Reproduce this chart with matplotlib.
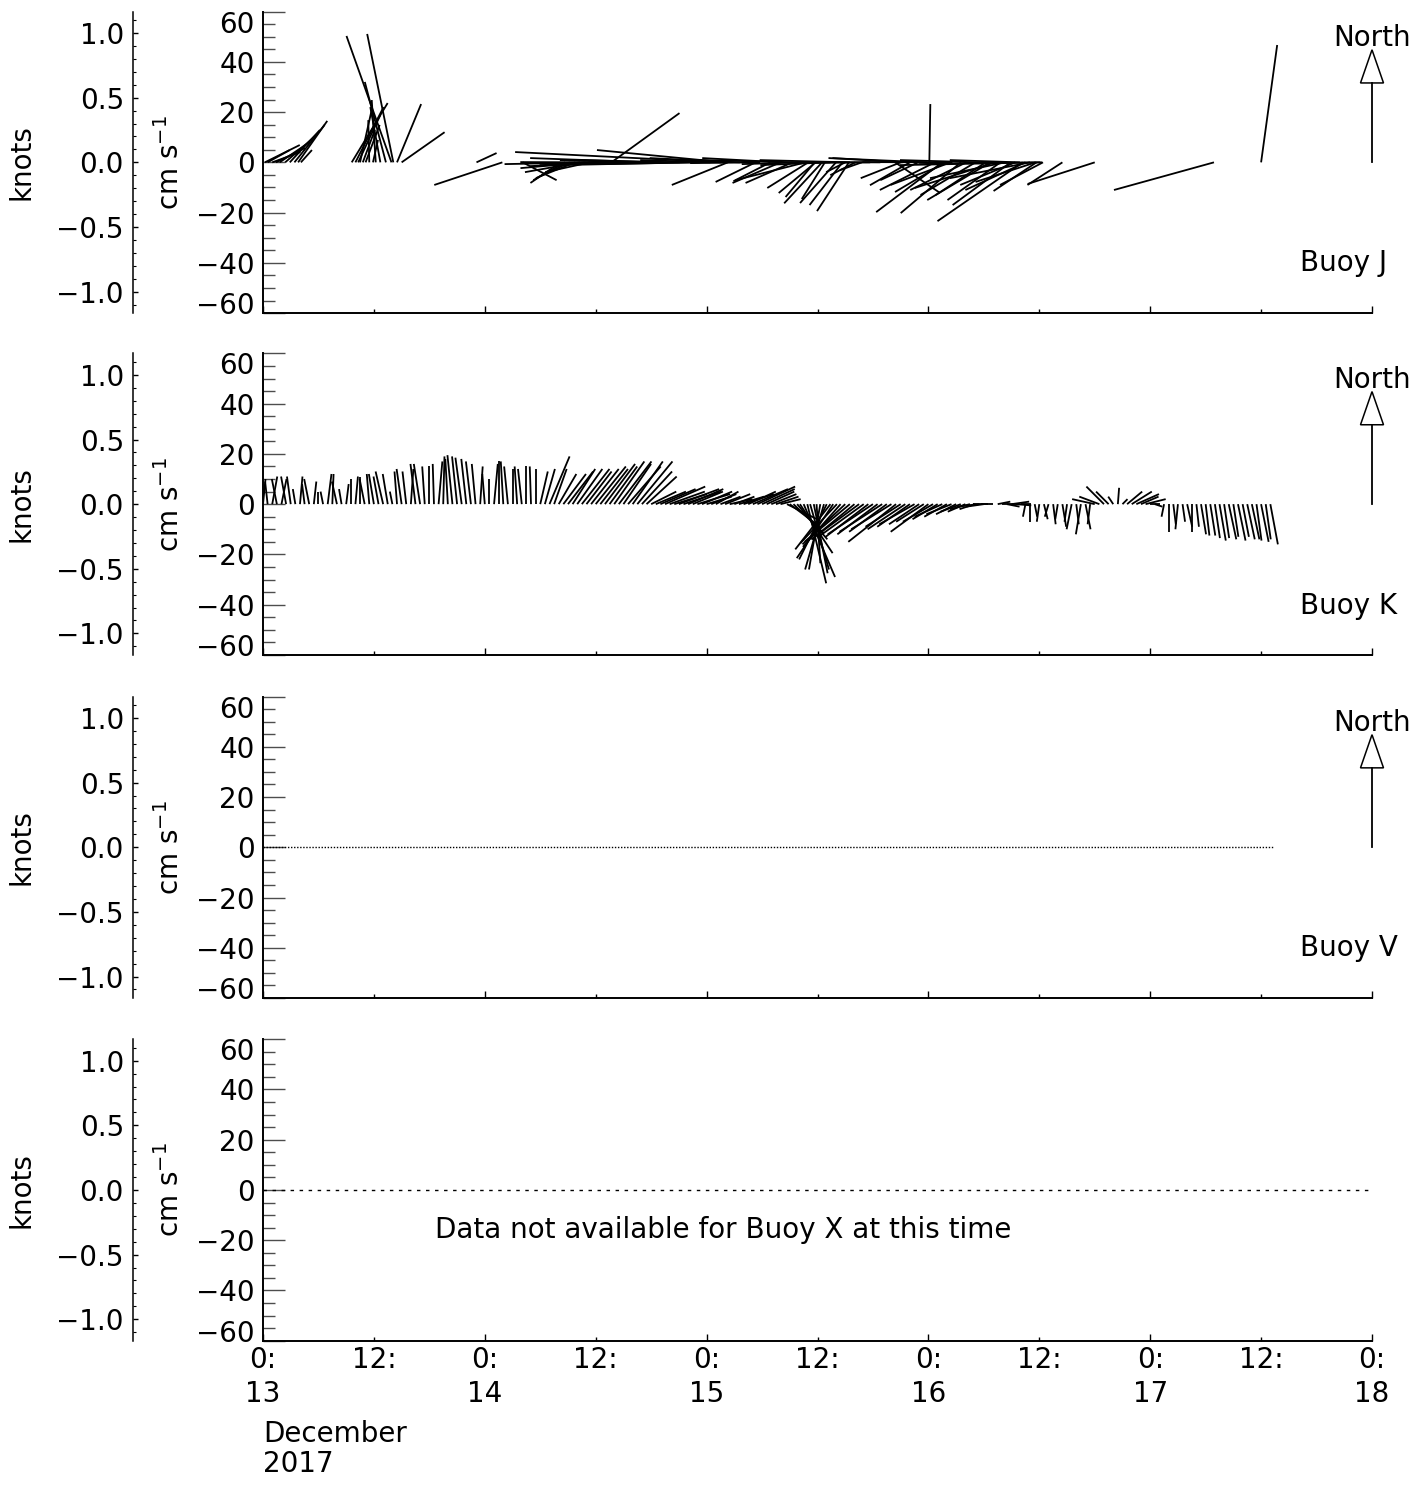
import numpy as np
import matplotlib
matplotlib.use('Agg')
import matplotlib.pyplot as plt
import matplotlib.transforms as mtransforms
from matplotlib.collections import LineCollection
from matplotlib.patches import Polygon
from matplotlib.ticker import FixedLocator, MultipleLocator, FuncFormatter

W, H = 1427, 1486
KNOT = 51.444          # cm/s in one knot
YMAX = 60              # cm/s
NORTH_LEN = 31.6       # cm/s, length of the reference arrow shaft
NORTH_HEAD = 13.2      # cm/s, arrow head height
START_DAY = 13         # December 2017

# ---- Buoy J: hours after 13 Dec 00:00, east (u) and north (v) speed in cm/s
J_HOURS = [0.0, 0.2, 0.5, 1.0, 1.4, 1.8, 2.4, 2.9, 3.4, 3.8, 4.1,
           9.6, 10.0, 10.3, 10.5, 10.8, 11.1, 11.5, 11.9, 12.2, 12.7, 13.3, 13.9, 14.1, 14.5, 15.0,
           23.1, 25.9, 28.1,
           32.2, 32.7, 33.2, 33.8, 34.3, 34.9, 35.4, 35.9, 36.5, 37.7,
           38.6, 40.8, 43.0, 45.1, 47.3, 49.6, 50.0, 50.3, 51.6, 53.3,
           56.0, 57.3, 58.1, 59.0, 59.8, 60.5, 61.4, 62.0, 62.7, 63.4,
           64.1, 64.8, 65.7, 68.4, 69.0, 70.0, 70.9, 71.9, 72.1, 72.7,
           73.5, 74.4, 75.5, 76.1, 77.1, 78.7, 79.8, 80.3, 80.9, 81.4,
           82.2, 83.0, 83.7, 84.1, 84.4, 86.5, 90.0, 102.9, 108.0,
           # dense stretch, 14-16 Dec
           54.9, 59.7, 60.8, 58.7, 63.0, 37.6, 41.9, 46.2, 48.4, 53.8,
           56.2, 58.3, 63.5, 66.8, 69.2, 74.6, 77.6, 79.6, 81.9, 84.3,
           73.8, 78.2, 79.2, 82.5, 83.6]
J_U = [-13.1, 13.9, 8.8, 11.2, 11.6, 12.0, 12.0, 12.0, 12.0, 11.6, 4.4,
       14.3, 11.2, 8.8, 4.8, 4.8, 5.6, -0.4, 2.0, -1.6, -4.0, -8.4, -17.9, -10.4, 9.6, 17.1,
       8.0, -27.1, 13.5,
       -12.0, -12.7, -13.5, -13.9, -21.9, -25.9, -17.9, -35.9, -27.9, 27.1,
       -31.9, -31.9, -35.9, -39.8, -39.8, -82.1, -51.0, -22.3, -35.9, -15.9,
       -19.1, -18.7, -39.8, -16.3, -14.7, -15.1, -27.9, -14.3, -13.1, -12.7,
       -10.0, -8.8, -31.9, 17.9, -15.9, -15.9, -15.1, -39.4, 0.4, -21.9,
       -26.3, -23.9, -23.9, -22.3, -21.9, -25.1, -21.1, -29.9, -23.1, -21.9,
       -33.9, -31.9, -17.1, -55.8, -17.1, -13.9, -26.7, -39.8, 6.4,
       -14.7, -11.6, -9.2, -27.9, -7.6, -35.9, -47.8, -51.8, -27.9, -27.9,
       -31.9, -23.9, -35.9, -31.9, -27.9, -35.9, -31.9, -31.9, -27.9, -27.9,
       -19.9, -19.9, -31.9, -23.9, -23.9]
J_V = [-9.8, 6.9, 4.9, 4.1, 5.7, 8.1, 10.5, 12.9, 14.9, 16.5, 4.9,
       23.6, 22.0, 18.8, 21.6, 12.9, 14.9, 16.8, 8.9, 24.8, 22.0, 32.0, 50.3, 51.1, 23.2, 12.0,
       3.7, -9.0, -7.1,
       -8.2, -7.1, -6.3, -5.5, -3.9, -2.3, -3.9, -0.7, -1.5, 19.6,
       -1.1, 0.9, -0.3, 0.9, -0.7, 4.1, 4.9, -9.0, 1.7, -7.8,
       -8.2, -8.2, 0.9, -10.2, -12.2, -16.3, -1.1, -16.2, -17.0, -19.4,
       -5.1, -3.1, -0.3, -12.2, -6.3, -9.1, -7.1, 1.7, 23.2, -11.0,
       -19.8, -9.0, -20.2, -11.0, -13.0, -15.0, -15.0, -6.3, -17.0, -9.0,
       -23.4, -6.3, -11.4, -1.1, -9.0, -9.0, -8.6, -11.0, 46.7,
       -7.5, -13.8, -14.6, -7.1, -3.9, 0.1, 1.7, -1.1, 0.9, -0.3,
       1.7, -0.7, 0.9, 0.1, 1.7, 0.1, 0.9, -0.7, 0.9, -0.3,
       -11.8, -13.0, -10.2, -11.0, -7.8]

# ---- Buoy K
K_HOURS = [0.0, 0.5, 1.0, 1.5, 2.0, 2.5, 3.0, 3.5, 4.0, 4.5, 5.0, 5.5, 6.0, 6.5, 7.0,
           7.5, 8.0, 8.5, 9.0, 9.5, 10.0, 10.5, 11.0, 11.5, 12.0, 12.5, 13.0, 13.5, 14.0,
           14.5, 15.0, 15.5, 16.0, 16.5, 17.0, 17.5, 18.0, 18.5, 19.0, 19.5, 20.0, 20.5,
           21.0, 21.5, 22.0, 22.5, 23.0, 23.5, 24.0, 24.5, 25.0, 25.5, 26.0, 26.5, 27.0,
           27.5, 28.0, 28.5, 29.0, 29.5, 30.0, 30.5, 31.0, 31.5, 32.0,
           32.5, 33.0, 33.5, 34.0, 34.5, 35.0, 35.5, 36.0, 36.5, 37.0, 37.5, 38.0, 38.5,
           39.0, 39.5, 40.0, 40.5, 41.0, 41.5,
           42.0, 42.5, 43.0, 43.5, 44.0, 44.5, 45.0, 45.5, 46.0, 46.5, 47.0, 47.5, 48.0,
           48.5, 49.0, 49.5, 50.0, 50.5, 51.0, 51.5, 52.0, 52.5, 53.0, 53.5, 54.0, 54.5,
           55.0, 55.5, 56.0,
           56.7, 57.0, 57.4, 57.8, 58.1, 58.5, 58.9, 59.2, 59.6, 59.9, 60.3, 60.7, 61.0,
           61.4, 61.7, 62.1,
           62.5, 63.0, 63.5, 64.0, 64.5, 65.0, 65.5, 66.0, 66.5, 67.0, 67.5, 68.0, 68.5,
           69.0, 69.5, 70.0, 70.5, 71.0, 71.5, 72.0, 72.5, 73.0, 73.5, 74.0, 74.5, 75.0,
           75.5, 76.0, 76.5, 77.0, 77.5, 78.0, 78.5, 79.0,
           79.5, 80.0, 80.5, 81.0, 81.5, 82.0,
           82.5, 83.0, 83.5, 84.0, 84.5, 85.0, 85.5, 86.0, 86.5, 87.0, 87.5, 88.0, 88.5,
           89.0, 89.5,
           90.0, 90.5, 91.0, 91.5, 92.0, 92.5, 93.0, 93.5, 94.0, 94.5, 95.0, 95.5, 96.0, 96.5,
           97.5, 98.0, 98.5, 99.0, 99.5, 100.0, 100.5, 101.0, 101.5, 102.0, 102.5, 103.0,
           103.5, 104.0, 104.5, 105.0, 105.5, 106.0, 106.5, 107.0, 107.5, 108.0, 108.5, 109.0]
K_U = [1, -1, 2, -2, 2, -2, -1.5, -1, 1, -1, -2, 1, 0, -1, 1.5,
       0.5, -2, -1, 1, 0, 1, 0, -2, -1, -2, -2, -3, -2, -1,
       -1, -2, -1.5, 1, -2, -2.5, -1, 0, -0.5, 1.5, 0.5, -1, -2,
       -2, -2.5, -2, -2, -1.5, 1, -1, 0, 1.5, 0, -1, -1.5, 0,
       -1, -1.5, 0, -0.5, 0, 3, 4, 8, 5, 7,
       9, 10, 9, 10, 11, 10, 11, 12, 11, 12, 11, 12, 13,
       11, 13, 12, 14, 12, 12,
       10, 12, 14, 16, 14, 13, 16, 15, 14, 12, 13, 12, 10,
       10, 9, 8, 10, 9, 8, 10, 12, 11, 14, 15, 13, 11,
       10, 9, 8,
       12, 12, 12, 12, 13, 12.5, 7.5, 7.5, 5.5, 1.5, -4.5, -7.5, -11,
       -14, -14.5, -14.5,
       -15, -17, -18, -17, -19, -18, -17, -18, -16, -17, -15, -16, -19,
       -14, -15, -13, -14, -12, -11, -15, -12, -10, -11, -9, -10, -8,
       -8, -7, -8, -6, -9, -7, -6, -5,
       5, 6, 5, 7, 6, 4,
       -1, 0, 1, -1, 1.5, -1.5, 1, -1, 1.5, -1, -2, 1, -2,
       2, -1,
       -9, -8, -7, -5, -2, 0.5, 2, 6, 8, 9, 7, 8, 4, 3,
       -1, 0, 1, -1, 1, 2, 0, 1, 2, 1.5, 2, 2,
       2.5, 2, 3, 2, 3, 2.5, 3, 3, 2, 3, 2, 3]
K_V = [10, 9, 11, 10, 10, 11, 11, 6, 11, 8, 10, 9, 5, 5, 12,
       12, 9, 6, 8, 10, 11, 11, 10, 12, 12, 11, 13, 12, 5,
       13, 14, 13, 14, 16, 16, 15, 15, 16, 17, 19, 18, 19.5,
       19, 18.5, 18, 17, 16, 15, 12, 10, 16, 17, 17, 15, 14,
       15, 14, 15, 15, 14, 13, 14, 19, 14, 12,
       12, 13, 14, 14, 14, 13, 14, 15, 14, 16, 15, 17, 17,
       16, 15, 17, 17, 13, 11,
       5, 5, 6, 7, 5, 4, 6, 5, 6, 5, 4, 5, 3,
       4, 5, 3, 4, 2, 3, 3, 4, 5, 6, 7, 6, 5,
       4, 3, 2,
       -6, -9, -11.5, -14, -19.5, -29, -31.5, -26, -27.5, -23.5, -26, -26, -22,
       -18, -21.5, -15.5,
       -17, -16, -15, -14, -14, -13, -13, -12, -12, -11, -11, -10, -15,
       -9, -10, -9, -8, -8, -7, -11, -7, -6, -5, -5, -4, -4,
       -3, -3, -2, -2, -1, -1, 0, 0,
       1, 0, -1, 1, -0.5, 0,
       -5, -7, -5, -7, -6, -5, -8, -6, -9, -7, -10, -8, -12,
       -10, -8,
       2, 3, 7, 5, 3, 6.5, 2, 5, 5, 4, 3, 2, 0, -1,
       -5, -11, -8, -10, -7, -9, -11, -9, -12, -12.5, -12.5, -13.5,
       -14.5, -13.5, -14, -13, -14.5, -13, -14, -14, -14.5, -15, -14, -16]

# ---- Buoy V: record present but no currents, Buoy X: no record
V_END_HOURS = 109.3

assert len(J_HOURS) == len(J_U) == len(J_V)
assert len(K_HOURS) == len(K_U) == len(K_V)

plt.rcParams['font.family'] = ['DejaVu Sans']
plt.rcParams['font.size'] = 20
plt.rcParams['mathtext.default'] = 'regular'

fig = plt.figure(figsize=(W / 100, H / 100), dpi=100)

tops = [11.6, 353.4, 696.5, 1039.2]
ph = 301.5


def stick_plot(ax, hours, u, v):
    # sticks drawn so that one cm/s is the same length in x and in y
    x0, y0 = ax.transData.transform((0, 0))
    x1, y1 = ax.transData.transform((1, 1))
    days_per_cms = (y1 - y0) / (x1 - x0)
    days = np.asarray(hours) / 24.0
    segs = [[(d, 0), (d + uu * days_per_cms, vv)] for d, uu, vv in zip(days, u, v)]
    ax.add_collection(LineCollection(segs, colors='k', linewidths=1.3))


def north_arrow(ax):
    hw = 11.5 / 221.8
    ax.plot([5, 5], [0, NORTH_LEN], color='k', lw=1.3, clip_on=False)
    ax.add_patch(Polygon([[5 - hw, NORTH_LEN], [5 + hw, NORTH_LEN], [5, NORTH_LEN + NORTH_HEAD]],
                         closed=True, fc='white', ec='k', lw=1.1, clip_on=False))
    ax.text(5, 49.5, 'North', ha='center', va='center')


axes = []
for i, top in enumerate(tops):
    bottom = 1 - (top + ph) / H
    ax = fig.add_axes([263 / W, bottom, 1109 / W, ph / H])
    ax.set_xlim(0, 5)
    ax.set_ylim(-YMAX, YMAX)
    ax.spines['top'].set_visible(False)
    ax.spines['right'].set_visible(False)
    ax.spines['left'].set_linewidth(1.4)
    ax.spines['bottom'].set_linewidth(1.4)
    ax.yaxis.set_major_locator(FixedLocator([-60, -40, -20, 0, 20, 40, 60]))
    ax.yaxis.set_minor_locator(MultipleLocator(5))
    ax.tick_params(axis='y', which='major', direction='in', length=16, width=1, color='0.3', pad=6)
    ax.tick_params(axis='y', which='minor', direction='in', length=8.5, width=1, color='0.3')
    ax.xaxis.set_major_locator(FixedLocator([0, 1, 2, 3, 4, 5]))
    ax.xaxis.set_minor_locator(FixedLocator([0.5, 1.5, 2.5, 3.5, 4.5]))
    ax.tick_params(axis='x', which='major', direction='in', length=5, width=1, pad=4)
    ax.tick_params(axis='x', which='minor', direction='in', length=3, width=1, pad=4)
    last = i == len(tops) - 1
    if last:
        ax.xaxis.set_major_formatter(FuncFormatter(lambda x, p: '0:\n%d' % (START_DAY + int(round(x)))))
        ax.xaxis.set_minor_formatter(FuncFormatter(lambda x, p: '12:'))
        for t in ax.xaxis.get_major_ticks():
            t.label1.set_linespacing(1.25)
    else:
        ax.tick_params(axis='x', which='both', labelbottom=False)
    # end labels sit inside the axis range
    yt = ax.yaxis.get_major_ticks()
    yt[0].label1.set_transform(yt[0].label1.get_transform() +
                               mtransforms.ScaledTranslation(0, 0.10, fig.dpi_scale_trans))
    yt[-1].label1.set_transform(yt[-1].label1.get_transform() +
                                mtransforms.ScaledTranslation(0, -0.10, fig.dpi_scale_trans))

    # knots axis
    kx = fig.add_axes([133 / W, bottom, 0.0005, ph / H])
    kx.set_ylim(-YMAX / KNOT, YMAX / KNOT)
    kx.patch.set_visible(False)
    for s in ('top', 'right', 'bottom'):
        kx.spines[s].set_visible(False)
    kx.spines['left'].set_linewidth(1.1)
    kx.set_xticks([])
    kx.yaxis.set_major_locator(MultipleLocator(0.5))
    kx.yaxis.set_minor_locator(MultipleLocator(0.1))
    kx.tick_params(axis='y', which='major', direction='in', length=3.5, width=1, pad=6.5)
    kx.tick_params(axis='y', which='minor', direction='in', length=2.5, width=0.8)

    yc = 1 - (top + ph / 2) / H
    fig.text(22 / W, yc, 'knots', rotation=90, ha='center', va='center')
    fig.text(170 / W, yc, r'cm s$^{-1}$', rotation=90, ha='center', va='center')
    axes.append(ax)

axJ, axK, axV, axX = axes

stick_plot(axJ, J_HOURS, J_U, J_V)
north_arrow(axJ)
axJ.text(4.677, -40, 'Buoy J', ha='left', va='center')

stick_plot(axK, K_HOURS, K_U, K_V)
north_arrow(axK)
axK.text(4.677, -40.5, 'Buoy K', ha='left', va='center')

axV.plot([0, V_END_HOURS / 24], [0, 0], color='k', lw=1.0, ls=(0, (1, 1.2)))
north_arrow(axV)
axV.text(4.677, -40, 'Buoy V', ha='left', va='center')

axX.plot([0, 5], [0, 0], color='k', lw=1.0, ls=(0, (2.5, 4)))
axX.text(2.077, -16, 'Data not available for Buoy X at this time', ha='center', va='center')

fig.text(263 / W, 1 - 1420 / H, 'December\n2017', ha='left', va='top', linespacing=1.1)

fig.savefig('out.png', dpi=100)
